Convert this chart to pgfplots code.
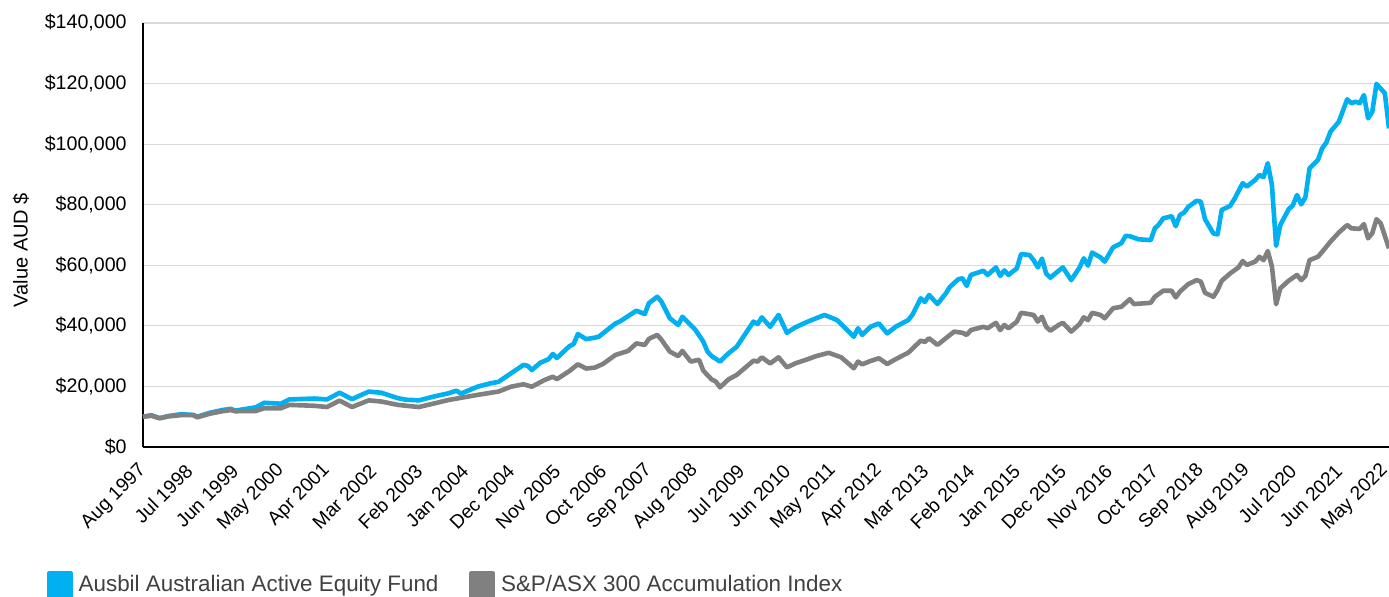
\documentclass[border=0pt]{standalone}
\usepackage{pgfplots}
\pgfplotsset{compat=1.18}
\usepackage{fontspec}
\setmainfont{Liberation Sans}
\definecolor{fundblue}{HTML}{00B0F0}
\definecolor{idxgray}{HTML}{808080}
\definecolor{gridgray}{HTML}{D9D9D9}
\definecolor{legtext}{HTML}{404040}
\begin{document}
\begin{tikzpicture}
\begin{axis}[
  name=ax,
  scale only axis,
  width=623pt, height=212pt,
  xmin=0, xmax=298,
  ymin=0, ymax=140000,
  scaled y ticks=false,
  axis x line*=bottom,
  axis y line*=left,
  axis line style={black, line width=0.7pt},
  x axis line style={-}, y axis line style={-},
  major tick length=0pt,
  ytick={0,20000,40000,60000,80000,100000,120000,140000},
  yticklabels={{\$0},{\$20,000},{\$40,000},{\$60,000},{\$80,000},{\$100,000},{\$120,000},{\$140,000}},
  ymajorgrids,
  grid style={gridgray, line width=0.6pt},
  xtick={0,11,22,33,44,55,66,77,88,99,110,121,132,143,154,165,176,187,198,209,220,231,242,253,264,275,286,297},
  xticklabels={Aug 1997,Jul 1998,Jun 1999,May 2000,Apr 2001,Mar 2002,Feb 2003,Jan 2004,Dec 2004,Nov 2005,Oct 2006,Sep 2007,Aug 2008,Jul 2009,Jun 2010,May 2011,Apr 2012,Mar 2013,Feb 2014,Jan 2015,Dec 2015,Nov 2016,Oct 2017,Sep 2018,Aug 2019,Jul 2020,Jun 2021,May 2022},
  xticklabel style={xshift=0.5pt, yshift=-10pt, rotate=45, anchor=east, font=\fontsize{9.6}{11}\selectfont, inner sep=0.5pt},
  yticklabel style={font=\fontsize{9.8}{11}\selectfont, inner sep=0pt, xshift=-8pt},
  clip=false,
  legend columns=2,
  legend style={draw=none, fill=none, at={(rel axis cs:-0.0770,-0.3255)}, anchor=west,
    inner sep=0pt, outer sep=0pt,
    font=\fontsize{11.2}{13}\selectfont, text=legtext,
    nodes={inner sep=0pt},
    /tikz/every odd column/.append style={column sep=3pt},
    /tikz/every even column/.append style={column sep=15.5pt}},
  legend image code/.code={\fill[#1] (0pt,-6pt) rectangle (10.5pt,6pt);},
]
\addplot[color=fundblue, line width=2.3pt, line join=round] coordinates {
(0,10000)(2,10500)(4,9500)(6,10200)(9,10800)(12,10600)(13,10000)(16,11300)(19,12200)(21,12600)(22,12000)(27,13100)(29,14600)(33,14300)(35,15700)(41,16000)(44,15700)(47,17900)(50,15800)(54,18300)(57,17900)(61,16100)(63,15600)(66,15400)(70,16800)(73,17700)(75,18600)(76,17600)(80,19900)(83,21000)(85,21500)(88,24300)(91,27100)(92,26800)(93,25400)(95,27800)(97,29000)(98,30700)(99,29400)(102,33300)(103,34000)(104,37300)(106,35600)(108,36100)(109,36400)(111,38600)(113,40800)(114,41400)(116,43200)(118,45000)(120,43900)(121,47500)(123,49600)(124,48000)(126,42500)(128,40300)(129,43000)(132,38900)(134,34800)(135,31500)(136,30000)(138,28200)(140,30900)(142,33100)(146,41400)(147,40600)(148,42800)(150,39700)(152,43600)(154,37700)(156,39500)(159,41400)(161,42500)(163,43600)(166,41900)(168,39200)(170,36400)(171,39200)(172,37000)(174,39700)(176,40800)(178,37500)(180,39700)(183,41900)(184,43600)(186,49100)(187,47900)(188,50200)(190,47200)(192,50700)(193,52900)(195,55400)(196,55700)(197,53200)(198,56800)(201,58200)(202,56800)(204,59300)(205,56500)(206,58300)(207,56800)(209,59000)(210,63700)(212,63400)(213,61700)(214,59300)(215,62200)(216,57300)(217,55900)(219,58200)(220,59300)(222,55100)(224,59300)(225,62300)(226,59900)(227,64200)(229,62600)(230,61200)(232,65900)(234,67300)(235,69700)(236,69600)(238,68600)(241,68300)(242,72200)(243,73500)(244,75500)(246,76200)(247,72900)(248,76600)(249,77400)(250,79300)(252,81300)(253,81000)(254,75200)(256,70500)(257,70200)(258,78300)(260,79600)(261,81800)(263,87100)(264,86000)(266,88200)(267,89800)(268,89100)(269,93700)(270,86500)(271,66400)(272,73300)(274,78500)(275,79800)(276,83200)(277,80100)(278,82400)(279,92000)(281,94800)(282,98600)(283,100500)(284,104100)(286,107400)(288,114800)(289,113500)(290,114000)(291,113500)(292,116200)(293,108500)(294,110700)(295,119900)(297,116800)(298,105200)
};
\addlegendentry{Ausbil Australian Active Equity Fund}
\addplot[color=idxgray, line width=2.3pt, line join=round] coordinates {
(0,10000)(2,10300)(4,9500)(6,10100)(9,10500)(12,10500)(13,9800)(16,11000)(19,11800)(21,12200)(22,11800)(27,11900)(29,12800)(33,12800)(35,13900)(41,13600)(44,13200)(47,15300)(50,13200)(54,15400)(57,15000)(61,13900)(63,13600)(66,13200)(70,14500)(73,15500)(80,17200)(85,18300)(88,19900)(91,20700)(93,19900)(96,22100)(98,23200)(99,22400)(102,25100)(104,27300)(106,25900)(108,26200)(110,27400)(113,30400)(116,31700)(118,34200)(120,33700)(121,35700)(123,37000)(124,35400)(126,31500)(128,30000)(129,31700)(131,28200)(133,28800)(134,25200)(136,22300)(137,21600)(138,19700)(140,22300)(142,23800)(146,28500)(147,28200)(148,29600)(150,27600)(152,29600)(154,26300)(156,27600)(159,29000)(161,30000)(164,31100)(167,29600)(170,26000)(171,28200)(172,27300)(174,28400)(176,29300)(178,27400)(180,29000)(183,31100)(186,35100)(187,34700)(188,35900)(190,33700)(192,35900)(194,38100)(196,37700)(197,37000)(198,38600)(201,39700)(202,39200)(204,41000)(205,38600)(206,40300)(207,39200)(209,41400)(210,44300)(213,43600)(214,41400)(215,43000)(216,39700)(217,38400)(219,40300)(220,41000)(222,38100)(224,40600)(225,42800)(226,41900)(227,44300)(229,43600)(230,42500)(232,45800)(234,46300)(236,48800)(237,47200)(241,47600)(242,49600)(244,51600)(246,51600)(247,49400)(248,51300)(250,53800)(252,55100)(253,54600)(254,50900)(256,49600)(257,51800)(258,54900)(260,57300)(262,59300)(263,61400)(264,60100)(266,61200)(267,62800)(268,61700)(269,64700)(270,59600)(271,47100)(272,52400)(274,54900)(276,56800)(277,55100)(278,56500)(279,61700)(281,62800)(282,64400)(284,67800)(286,70800)(288,73300)(289,72200)(291,72000)(292,73600)(293,68900)(294,70600)(295,75200)(296,73900)(298,65600)
};
\addlegendentry{S\&P/ASX 300 Accumulation Index}
\end{axis}
\node[rotate=90, font=\fontsize{10}{12}\selectfont] at ([xshift=-61pt,yshift=-7.5pt]ax.west) {Value AUD \$};
\pgfresetboundingbox
\path[use as bounding box] ([shift={(-71.5pt,-75pt)}]ax.south west) rectangle ([shift={(0pt,11.5pt)}]ax.north east);
\end{tikzpicture}
\end{document}
